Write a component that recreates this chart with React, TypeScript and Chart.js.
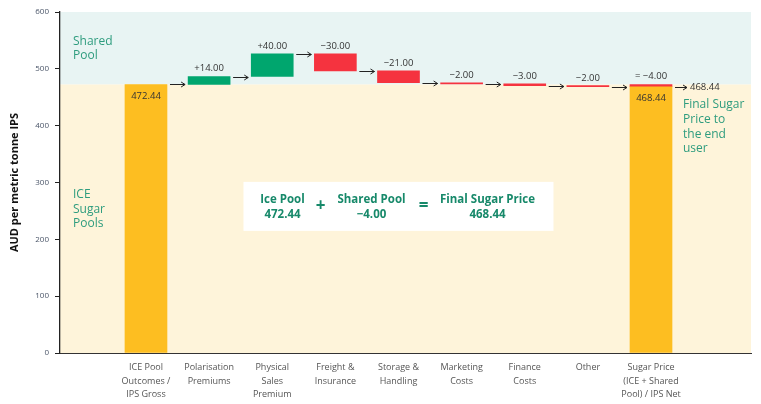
import React, { useEffect, useRef } from "react";
import { Chart, registerables } from "chart.js";

Chart.register(...registerables);

const categories: string[][] = [
  ["ICE Pool", "Outcomes /", "IPS Gross"],
  ["Polarisation", "Premiums"],
  ["Physical", "Sales", "Premium"],
  ["Freight &", "Insurance"],
  ["Storage &", "Handling"],
  ["Marketing", "Costs"],
  ["Finance", "Costs"],
  ["Other"],
  ["Sugar Price", "(ICE + Shared", "Pool) / IPS Net"],
];
const iceStart = 472.44;
const changes = [14, 40, -30, -21, -2, -3, -2];
const sharedPool = -4.0;
const finalPrice = 468.44;
const yTicks = [0, 100, 200, 300, 400, 500, 600];

const GREEN = "#00A66E";
const RED = "#F5333F";
const YELLOW = "#FDBE21";
const TEAL = "#2E9C7E";
const BOXGREEN = "#17896A";
const FONT = "'Open Sans', 'Noto Sans', sans-serif";
const BW = 42;

const fmt = (v: number, sign: boolean) => {
  const s = Math.abs(v).toFixed(2);
  if (!sign) return s;
  return (v < 0 ? "\u2212" : "+") + s;
};

export default function App() {
  const ref = useRef<HTMLCanvasElement>(null);

  useEffect(() => {
    if (!ref.current) return;
    const bars: any[] = [];
    const colors: string[] = [];
    const levels: number[] = [];
    bars.push({ x: 0, y: [0, iceStart] });
    colors.push(YELLOW);
    levels.push(iceStart);
    let cur = iceStart;
    changes.forEach((c, i) => {
      const next = cur + c;
      bars.push({ x: i + 1, y: [cur, next] });
      colors.push(c >= 0 ? GREEN : RED);
      levels.push(next);
      cur = next;
    });
    const fi = changes.length + 1;
    bars.push({ x: fi, y: [0, finalPrice] });
    colors.push(YELLOW);
    levels.push(finalPrice);
    const cap = [{ x: fi, y: [finalPrice, finalPrice - sharedPool] }];

    const bgPlugin = {
      id: "bg",
      beforeDraw(chart: any) {
        const { ctx, chartArea: a, scales } = chart;
        const yb = scales.y.getPixelForValue(iceStart);
        ctx.save();
        ctx.fillStyle = "#E8F4F3";
        ctx.fillRect(a.left, a.top, a.right - a.left, yb - a.top);
        ctx.fillStyle = "#FEF4DA";
        ctx.fillRect(a.left, yb, a.right - a.left, a.bottom - yb);
        ctx.restore();
      },
    };

    const annPlugin = {
      id: "ann",
      afterDatasetsDraw(chart: any) {
        const { ctx, chartArea: a, scales } = chart;
        const xs = scales.x;
        const ys = scales.y;
        ctx.save();
        ctx.font = `9.5px ${FONT}`;
        ctx.fillStyle = "#333";
        ctx.textAlign = "center";
        changes.forEach((c, i) => {
          const b = bars[i + 1];
          const top = Math.max(b.y[0], b.y[1]);
          ctx.textBaseline = "bottom";
          ctx.fillText(fmt(c, true), xs.getPixelForValue(i + 1), ys.getPixelForValue(top) - 3);
        });
        ctx.textBaseline = "middle";
        ctx.fillText(fmt(iceStart, false), xs.getPixelForValue(0), ys.getPixelForValue(iceStart) + 12);
        ctx.fillText(fmt(finalPrice, false), xs.getPixelForValue(fi), ys.getPixelForValue(finalPrice) + 12);
        ctx.textBaseline = "bottom";
        ctx.fillText("= " + fmt(sharedPool, true), xs.getPixelForValue(fi), ys.getPixelForValue(finalPrice - sharedPool) - 3);

        const arrow = (x1: number, x2: number, y: number) => {
          ctx.beginPath();
          ctx.moveTo(x1, y);
          ctx.lineTo(x2, y);
          ctx.moveTo(x2 - 4, y - 2.5);
          ctx.lineTo(x2, y);
          ctx.lineTo(x2 - 4, y + 2.5);
          ctx.stroke();
        };
        ctx.strokeStyle = "#222";
        ctx.lineWidth = 1;
        for (let i = 0; i < levels.length - 1; i++) {
          const y = Math.round(ys.getPixelForValue(levels[i])) + 0.5;
          arrow(xs.getPixelForValue(i) + BW / 2 + 3, xs.getPixelForValue(i + 1) - BW / 2 - 3, y);
        }
        const fx = xs.getPixelForValue(fi) + BW / 2 + 3;
        const fy = Math.round(ys.getPixelForValue(finalPrice)) + 0.5;
        arrow(fx, fx + 12, fy);
        ctx.textAlign = "left";
        ctx.textBaseline = "middle";
        ctx.fillText(fmt(finalPrice, false), fx + 15, fy);

        ctx.font = `12px ${FONT}`;
        ctx.fillStyle = TEAL;
        ctx.textAlign = "left";
        ["Shared", "Pool"].forEach((t, i) => ctx.fillText(t, a.left + 13, a.top + 30 + i * 14));
        ["ICE", "Sugar", "Pools"].forEach((t, i) => ctx.fillText(t, a.left + 13, a.top + 183 + i * 14.5));
        ["Final Sugar", "Price to", "the end", "user"].forEach((t, i) =>
          ctx.fillText(t, xs.getPixelForValue(fi) + BW / 2 + 11, ys.getPixelForValue(finalPrice) + 18 + i * 14.7)
        );

        const cx = xs.getPixelForValue(4);
        const cy = ys.getPixelForValue(258);
        ctx.fillStyle = "#FFFFFF";
        ctx.fillRect(cx - 155, cy - 24.5, 310, 49);
        ctx.fillStyle = BOXGREEN;
        ctx.textAlign = "center";
        ctx.font = `bold 11.5px ${FONT}`;
        const col = (x: number, l1: string, l2: string) => {
          ctx.fillText(l1, x, cy - 7);
          ctx.fillText(l2, x, cy + 8);
        };
        col(cx - 116, "Ice Pool", fmt(iceStart, false));
        col(cx - 27, "Shared Pool", fmt(sharedPool, true));
        col(cx + 89, "Final Sugar Price", fmt(finalPrice, false));
        ctx.font = `bold 17px ${FONT}`;
        ctx.fillText("+", cx - 78, cy);
        ctx.fillText("=", cx + 25, cy);
        ctx.restore();
      },
    };

    const chart = new Chart(ref.current, {
      type: "bar",
      data: {
        datasets: [
          {
            data: bars,
            backgroundColor: colors,
            barThickness: BW,
            grouped: false,
            borderWidth: 0,
          } as any,
          {
            data: cap,
            backgroundColor: RED,
            barThickness: BW,
            grouped: false,
            borderWidth: 0,
          } as any,
        ],
      },
      options: {
        animation: false,
        responsive: true,
        maintainAspectRatio: false,
        layout: { padding: { left: 0, right: 10, top: 12, bottom: 0 } },
        plugins: { legend: { display: false }, tooltip: { enabled: false } },
        scales: {
          x: {
            type: "linear",
            offset: false,
            min: -1.362,
            max: 9.584,
            grid: { display: false },
            border: { display: true, color: "#333", width: 1 },
            afterBuildTicks: (scale: any) => {
              scale.ticks = categories.map((_, i) => ({ value: i }));
            },
            afterFit: (scale: any) => {
              scale.height = 51;
            },
            ticks: {
              autoSkip: false,
              maxRotation: 0,
              minRotation: 0,
              padding: 0,
              color: "#555",
              font: { family: FONT, size: 9, lineHeight: 1.5 },
              callback: (v: any) => categories[v] ?? "",
            },
          },
          y: {
            min: 0,
            max: 600,
            afterBuildTicks: (scale: any) => {
              scale.ticks = yTicks.map((v) => ({ value: v }));
            },
            afterFit: (scale: any) => {
              scale.width = 60;
            },
            grid: { drawOnChartArea: false, drawTicks: true, tickLength: 5, color: "#222" },
            border: { display: true, color: "#222", width: 1.3 },
            ticks: {
              padding: 6,
              color: "#4A5568",
              font: { family: FONT, size: 8 },
            },
            title: {
              display: true,
              text: "AUD per metric tonne IPS",
              color: "#111",
              font: { family: FONT, size: 11, weight: "bold" },
              padding: { top: 8, bottom: 0 },
            },
          },
        },
      },
      plugins: [bgPlugin, annPlugin],
    });
    return () => chart.destroy();
  }, []);

  return (
    <div style={{ position: "fixed", left: 0, top: 0, width: 761, height: 404, background: "#fff" }}>
      <canvas ref={ref} />
    </div>
  );
}
